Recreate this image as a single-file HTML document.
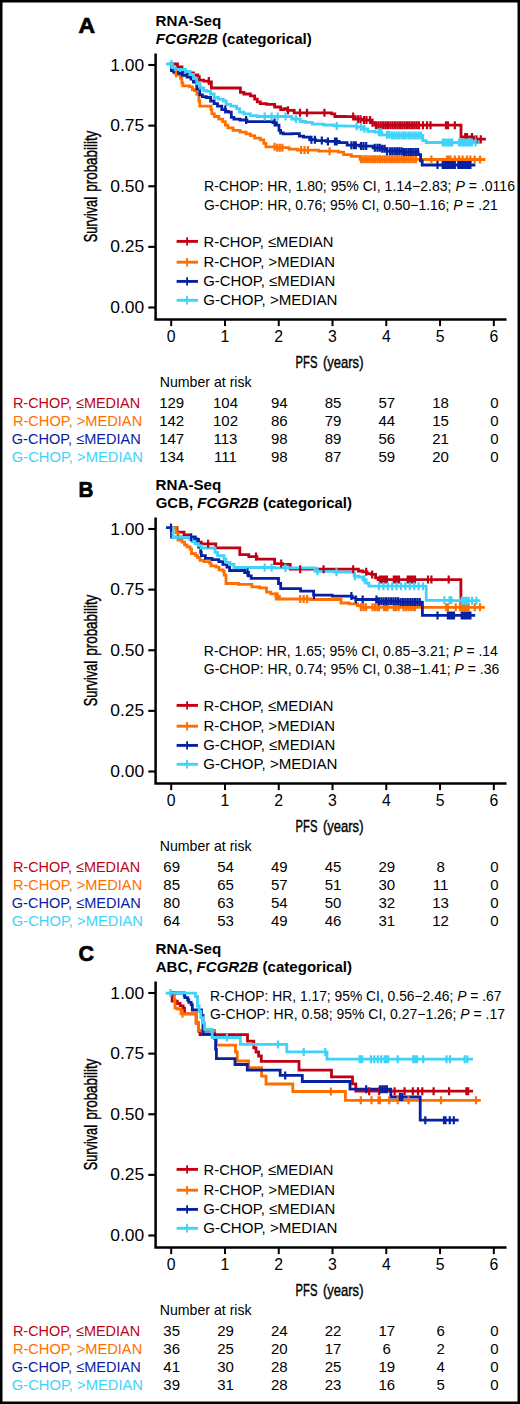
<!DOCTYPE html>
<html><head><meta charset="utf-8"><title>FCGR2B survival</title>
<style>
html,body{margin:0;padding:0;background:#fff;}
body{width:520px;height:1404px;overflow:hidden;}
svg{display:block;font-family:"Liberation Sans", sans-serif;}
</style></head><body>
<svg width="520" height="1404" viewBox="0 0 520 1404">
<rect x="0" y="0" width="520" height="1404" fill="#fff"/>
<text x="78.6" y="32.5" font-size="22.6" text-anchor="start" font-weight="bold" font-style="normal" fill="#000" textLength="16.6" lengthAdjust="spacingAndGlyphs" stroke="#000" stroke-width="0.7">A</text>
<text x="155.6" y="26.2" font-size="14" text-anchor="start" font-weight="bold" font-style="normal" fill="#000" textLength="65.6" lengthAdjust="spacingAndGlyphs">RNA-Seq</text>
<text x="155.8" y="44.0" font-size="14" font-weight="bold" fill="#000" textLength="156" lengthAdjust="spacingAndGlyphs"><tspan font-style="italic">FCGR2B</tspan> (categorical)</text>
<path d="M155.6 53.5 V319.6 H506.5" fill="none" stroke="#000" stroke-width="2.5"/>
<line x1="148.3" y1="65.0" x2="155" y2="65.0" stroke="#000" stroke-width="2.1"/>
<text x="144.2" y="70.5" font-size="16" text-anchor="end" font-weight="normal" font-style="normal" fill="#000" textLength="33.9" lengthAdjust="spacingAndGlyphs">1.00</text>
<line x1="148.3" y1="125.625" x2="155" y2="125.625" stroke="#000" stroke-width="2.1"/>
<text x="144.2" y="131.125" font-size="16" text-anchor="end" font-weight="normal" font-style="normal" fill="#000" textLength="33.9" lengthAdjust="spacingAndGlyphs">0.75</text>
<line x1="148.3" y1="186.25" x2="155" y2="186.25" stroke="#000" stroke-width="2.1"/>
<text x="144.2" y="191.75" font-size="16" text-anchor="end" font-weight="normal" font-style="normal" fill="#000" textLength="33.9" lengthAdjust="spacingAndGlyphs">0.50</text>
<line x1="148.3" y1="246.875" x2="155" y2="246.875" stroke="#000" stroke-width="2.1"/>
<text x="144.2" y="252.375" font-size="16" text-anchor="end" font-weight="normal" font-style="normal" fill="#000" textLength="33.9" lengthAdjust="spacingAndGlyphs">0.25</text>
<line x1="148.3" y1="307.5" x2="155" y2="307.5" stroke="#000" stroke-width="2.1"/>
<text x="144.2" y="313.0" font-size="16" text-anchor="end" font-weight="normal" font-style="normal" fill="#000" textLength="33.9" lengthAdjust="spacingAndGlyphs">0.00</text>
<line x1="171.2" y1="320" x2="171.2" y2="326.1" stroke="#000" stroke-width="2"/>
<text x="171.2" y="342.2" font-size="15.8" text-anchor="middle" font-weight="normal" font-style="normal" fill="#000">0</text>
<line x1="224.97" y1="320" x2="224.97" y2="326.1" stroke="#000" stroke-width="2"/>
<text x="224.97" y="342.2" font-size="15.8" text-anchor="middle" font-weight="normal" font-style="normal" fill="#000">1</text>
<line x1="278.74" y1="320" x2="278.74" y2="326.1" stroke="#000" stroke-width="2"/>
<text x="278.74" y="342.2" font-size="15.8" text-anchor="middle" font-weight="normal" font-style="normal" fill="#000">2</text>
<line x1="332.51" y1="320" x2="332.51" y2="326.1" stroke="#000" stroke-width="2"/>
<text x="332.51" y="342.2" font-size="15.8" text-anchor="middle" font-weight="normal" font-style="normal" fill="#000">3</text>
<line x1="386.28" y1="320" x2="386.28" y2="326.1" stroke="#000" stroke-width="2"/>
<text x="386.28" y="342.2" font-size="15.8" text-anchor="middle" font-weight="normal" font-style="normal" fill="#000">4</text>
<line x1="440.05" y1="320" x2="440.05" y2="326.1" stroke="#000" stroke-width="2"/>
<text x="440.05" y="342.2" font-size="15.8" text-anchor="middle" font-weight="normal" font-style="normal" fill="#000">5</text>
<line x1="493.82" y1="320" x2="493.82" y2="326.1" stroke="#000" stroke-width="2"/>
<text x="493.82" y="342.2" font-size="15.8" text-anchor="middle" font-weight="normal" font-style="normal" fill="#000">6</text>
<text transform="translate(97.0,242.3) rotate(-90)" x="0" y="0" font-size="18.5" fill="#000" stroke="#000" stroke-width="0.45" textLength="45.3" lengthAdjust="spacingAndGlyphs">Survival</text>
<text transform="translate(97.0,191.7) rotate(-90)" x="0" y="0" font-size="18.5" fill="#000" stroke="#000" stroke-width="0.45" textLength="61.0" lengthAdjust="spacingAndGlyphs">probability</text>
<text x="295.6" y="368.3" font-size="16.3" text-anchor="start" font-weight="normal" font-style="normal" fill="#000" textLength="21.8" lengthAdjust="spacingAndGlyphs" stroke="#000" stroke-width="0.4">PFS</text>
<text x="322.9" y="368.3" font-size="16.3" text-anchor="start" font-weight="normal" font-style="normal" fill="#000" textLength="40.6" lengthAdjust="spacingAndGlyphs" stroke="#000" stroke-width="0.4">(years)</text>
<path d="M171.2 64.0 L176.0 64.0 L177.5 64.0 L177.5 67.0 L179.0 67.0 L182.0 67.0 L182.0 72.0 L185.0 72.0 L187.5 72.0 L187.5 73.0 L190.0 73.0 L193.5 73.0 L193.5 75.0 L197.0 75.0 L197.8 75.0 L197.8 76.7 L198.5 76.7 L199.3 76.7 L199.3 80.2 L200.2 80.2 L203.6 80.2 L203.6 81.1 L207.1 81.1 L208.8 81.1 L208.8 81.9 L210.6 81.9 L211.4 81.9 L211.4 88.0 L212.3 88.0 L240.0 88.0 L240.4 88.0 L240.4 92.3 L240.9 92.3 L243.9 92.3 L243.9 94.0 L246.9 94.0 L250.4 94.0 L250.4 95.8 L253.8 95.8 L254.7 95.8 L254.7 99.2 L255.6 99.2 L257.3 99.2 L257.3 101.8 L259.0 101.8 L260.3 101.8 L260.3 103.6 L261.6 103.6 L266.4 103.6 L266.4 104.4 L271.2 104.4 L274.6 104.4 L274.6 107.0 L278.1 107.0 L280.7 107.0 L280.7 109.6 L283.3 109.6 L284.1 109.6 L284.1 108.6 L285.0 108.6 L287.5 108.6 L287.5 110.3 L290.0 110.3 L294.2 110.3 L294.2 112.8 L298.5 112.8 L330.0 112.8 L331.5 112.8 L331.5 113.9 L333.0 113.9 L334.8 113.9 L334.8 116.5 L336.5 116.5 L345.5 116.5 L345.5 116.6 L354.5 116.6 L355.2 116.6 L355.2 119.2 L356.0 119.2 L362.8 119.2 L362.8 120.1 L369.6 120.1 L371.3 120.1 L371.3 122.7 L373.0 122.7 L374.8 122.7 L374.8 125.2 L376.5 125.2 L461.0 125.2 L461.0 137.0 L473.5 137.0 L473.5 139.2 L484.5 139.2" fill="none" stroke="#c20014" stroke-width="2.8" stroke-linejoin="miter" stroke-linecap="square"/>
<path d="M171.2 64.0 L172.6 64.0 L172.6 70.0 L174.0 70.0 L174.8 70.0 L174.8 73.4 L175.6 73.4 L177.5 73.4 L177.5 74.8 L179.4 74.8 L180.4 74.8 L180.4 78.2 L181.3 78.2 L181.8 78.2 L181.8 83.0 L182.3 83.0 L182.8 83.0 L182.8 85.9 L183.3 85.9 L188.0 85.9 L189.5 85.9 L189.5 86.8 L191.0 86.8 L192.4 86.8 L192.4 89.7 L193.8 89.7 L194.4 89.7 L194.4 90.6 L195.0 90.6 L196.8 90.6 L196.8 94.0 L198.5 94.0 L198.9 94.0 L198.9 101.0 L199.3 101.0 L199.8 101.0 L199.8 106.2 L200.2 106.2 L210.6 106.2 L211.0 106.2 L211.0 109.6 L211.4 109.6 L211.9 109.6 L211.9 113.9 L212.3 113.9 L214.4 113.9 L214.4 116.5 L216.6 116.5 L218.8 116.5 L218.8 119.1 L221.0 119.1 L222.7 119.1 L222.7 121.7 L224.4 121.7 L225.3 121.7 L225.3 125.2 L226.2 125.2 L227.9 125.2 L227.9 127.8 L229.6 127.8 L233.1 127.8 L233.1 130.4 L236.5 130.4 L240.0 130.4 L240.0 132.1 L243.5 132.1 L246.1 132.1 L246.1 133.8 L248.7 133.8 L250.4 133.8 L250.4 135.6 L252.1 135.6 L254.7 135.6 L254.7 138.2 L257.3 138.2 L260.4 138.2 L260.4 139.9 L263.4 139.9 L263.8 139.9 L263.8 143.4 L264.2 143.4 L265.9 143.4 L265.9 146.8 L267.7 146.8 L276.4 146.8 L276.4 147.7 L285.0 147.7 L289.1 147.7 L289.1 149.2 L293.3 149.2 L297.6 149.2 L297.6 150.1 L301.9 150.1 L318.4 150.1 L318.4 151.2 L335.0 151.2 L338.4 151.2 L338.4 152.1 L341.9 152.1 L343.6 152.1 L343.6 154.7 L345.4 154.7 L351.4 154.7 L351.4 156.4 L357.5 156.4 L360.1 156.4 L360.1 159.3 L362.7 159.3 L423.4 159.3 L423.4 159.5 L484.0 159.5" fill="none" stroke="#ff6f00" stroke-width="2.8" stroke-linejoin="miter" stroke-linecap="square"/>
<path d="M171.2 64.0 L171.4 64.0 L171.4 70.5 L171.7 70.5 L173.6 70.5 L173.6 72.0 L175.6 72.0 L178.0 72.0 L178.0 73.4 L180.4 73.4 L182.3 73.4 L182.3 75.3 L184.2 75.3 L187.1 75.3 L187.1 77.2 L190.0 77.2 L191.0 77.2 L191.0 79.2 L192.0 79.2 L193.4 79.2 L193.4 82.0 L194.8 82.0 L194.9 82.0 L194.9 81.9 L195.0 81.9 L196.8 81.9 L196.8 88.8 L198.5 88.8 L199.8 88.8 L199.8 94.9 L201.1 94.9 L202.4 94.9 L202.4 96.6 L203.7 96.6 L206.2 96.6 L206.2 97.5 L208.8 97.5 L210.6 97.5 L210.6 101.0 L212.3 101.0 L214.1 101.0 L214.1 103.6 L215.8 103.6 L217.5 103.6 L217.5 106.2 L219.2 106.2 L221.8 106.2 L221.8 109.6 L224.4 109.6 L225.7 109.6 L225.7 111.3 L227.0 111.3 L228.3 111.3 L228.3 112.2 L229.6 112.2 L231.3 112.2 L231.3 117.4 L233.1 117.4 L233.9 117.4 L233.9 119.1 L234.8 119.1 L240.0 119.1 L240.0 120.0 L245.2 120.0 L246.9 120.0 L246.9 121.7 L248.7 121.7 L271.2 121.7 L272.9 121.7 L272.9 122.6 L274.6 122.6 L276.4 122.6 L276.4 125.2 L278.1 125.2 L279.0 125.2 L279.0 130.4 L279.8 130.4 L280.6 130.4 L280.6 133.0 L281.5 133.0 L283.2 133.0 L283.2 133.8 L285.0 133.8 L291.8 133.8 L291.8 133.7 L298.5 133.7 L299.4 133.7 L299.4 136.2 L300.2 136.2 L303.6 136.2 L303.6 137.1 L307.1 137.1 L309.7 137.1 L309.7 139.7 L312.3 139.7 L315.8 139.7 L315.8 140.6 L319.2 140.6 L326.1 140.6 L326.1 141.4 L333.1 141.4 L339.2 141.4 L339.2 142.6 L345.4 142.6 L347.1 142.6 L347.1 145.2 L348.8 145.2 L359.2 145.2 L359.2 146.1 L369.6 146.1 L373.1 146.1 L373.1 147.8 L376.5 147.8 L380.9 147.8 L380.9 148.7 L385.2 148.7 L386.9 148.7 L386.9 151.2 L388.7 151.2 L402.5 151.2 L402.5 152.1 L416.3 152.1 L418.1 152.1 L418.1 154.7 L419.8 154.7 L420.6 154.7 L420.6 160.8 L421.5 160.8 L422.2 160.8 L422.2 165.0 L423.0 165.0 L474.0 165.0" fill="none" stroke="#0622a2" stroke-width="2.8" stroke-linejoin="miter" stroke-linecap="square"/>
<path d="M167.5 64.0 L171.2 64.0 L172.1 64.0 L172.1 67.6 L173.0 67.6 L175.2 67.6 L175.2 69.5 L177.5 69.5 L183.0 69.5 L185.5 69.5 L185.5 71.5 L188.0 71.5 L190.0 71.5 L190.0 74.3 L192.0 74.3 L193.5 74.3 L193.5 78.5 L195.0 78.5 L196.8 78.5 L196.8 83.7 L198.5 83.7 L200.2 83.7 L200.2 88.0 L201.9 88.0 L203.7 88.0 L203.7 90.6 L205.4 90.6 L207.1 90.6 L207.1 91.4 L208.8 91.4 L210.6 91.4 L210.6 94.0 L212.3 94.0 L214.1 94.0 L214.1 97.5 L215.8 97.5 L218.4 97.5 L218.4 99.2 L221.0 99.2 L223.2 99.2 L223.2 101.0 L225.3 101.0 L226.2 101.0 L226.2 104.4 L227.0 104.4 L230.9 104.4 L230.9 106.2 L234.8 106.2 L236.6 106.2 L236.6 108.7 L238.3 108.7 L239.6 108.7 L239.6 112.2 L240.9 112.2 L243.9 112.2 L243.9 113.9 L246.9 113.9 L250.4 113.9 L250.4 115.7 L253.8 115.7 L257.3 115.7 L257.3 116.5 L260.8 116.5 L285.0 116.5 L291.8 116.5 L291.8 119.0 L298.5 119.0 L300.2 119.0 L300.2 121.5 L302.0 121.5 L305.4 121.5 L305.4 122.4 L308.8 122.4 L312.3 122.4 L312.3 124.1 L315.8 124.1 L323.6 124.1 L323.6 125.0 L331.3 125.0 L333.9 125.0 L333.9 125.9 L336.5 125.9 L344.4 125.9 L344.4 126.2 L352.3 126.2 L356.6 126.2 L356.6 127.0 L361.0 127.0 L363.5 127.0 L363.5 128.8 L366.0 128.8 L367.8 128.8 L367.8 131.3 L369.6 131.3 L374.8 131.3 L374.8 132.2 L380.0 132.2 L381.8 132.2 L381.8 134.8 L383.5 134.8 L389.6 134.8 L389.6 135.5 L395.6 135.5 L421.9 135.5 L422.8 135.5 L422.8 140.7 L423.7 140.7 L426.2 140.7 L426.2 142.5 L428.8 142.5 L480.0 142.5" fill="none" stroke="#3fd3f9" stroke-width="2.8" stroke-linejoin="miter" stroke-linecap="square"/>
<path d="M208.8 77.1V85.1M288.0 106.3V114.3M300.0 108.8V116.8M307.0 108.8V116.8M324.4 108.8V116.8M353.2 112.6V120.6M358.0 115.2V123.2M360.5 115.2V123.2M364.0 116.1V124.1M366.5 116.1V124.1M370.0 116.1V124.1M372.5 118.7V126.7M376.0 121.2V129.2M378.4 121.2V129.2M380.8 121.2V129.2M383.2 121.2V129.2M385.6 121.2V129.2M387.9 121.2V129.2M390.3 121.2V129.2M392.7 121.2V129.2M395.1 121.2V129.2M397.5 121.2V129.2M399.9 121.2V129.2M402.3 121.2V129.2M404.7 121.2V129.2M407.1 121.2V129.2M409.4 121.2V129.2M411.8 121.2V129.2M414.2 121.2V129.2M416.6 121.2V129.2M419.0 121.2V129.2M423.0 121.2V129.2M427.0 121.2V129.2M430.5 121.2V129.2M446.0 121.2V129.2M448.0 121.2V129.2M454.8 121.2V129.2M465.2 133.0V141.0M467.0 133.0V141.0M472.0 133.0V141.0M476.5 135.2V143.2M480.8 135.2V143.2" stroke="#c20014" stroke-width="2.2" fill="none"/>
<path d="M176.0 69.4V77.4M274.6 142.8V150.8M277.2 143.7V151.7M279.8 143.7V151.7M282.4 143.7V151.7M301.0 146.1V154.1M304.5 146.1V154.1M308.0 146.1V154.1M329.6 147.2V155.2M361.0 155.3V163.3M363.4 155.3V163.3M365.8 155.3V163.3M368.2 155.3V163.3M370.6 155.3V163.3M373.0 155.3V163.3M375.3 155.3V163.3M377.7 155.3V163.3M380.1 155.3V163.3M382.5 155.3V163.3M384.9 155.3V163.3M387.3 155.3V163.3M389.7 155.3V163.3M392.1 155.3V163.3M394.5 155.3V163.3M396.9 155.3V163.3M399.3 155.3V163.3M401.7 155.3V163.3M404.0 155.3V163.3M406.4 155.3V163.3M408.8 155.3V163.3M411.2 155.3V163.3M413.6 155.3V163.3M416.0 155.3V163.3M431.4 155.5V163.5M447.0 155.5V163.5M449.0 155.5V163.5M450.5 155.5V163.5M454.8 155.5V163.5M459.0 155.5V163.5M462.6 155.5V163.5M467.0 155.5V163.5M470.4 155.5V163.5M474.7 155.5V163.5M480.0 155.5V163.5" stroke="#ff6f00" stroke-width="2.2" fill="none"/>
<path d="M225.3 105.6V113.6M246.1 116.0V124.0M274.6 118.6V126.6M311.4 135.7V143.7M314.9 135.7V143.7M321.8 136.6V144.6M327.9 137.4V145.4M335.0 137.4V145.4M336.7 137.4V145.4M351.4 141.2V149.2M354.0 141.2V149.2M355.8 141.2V149.2M361.0 142.1V150.1M363.5 142.1V150.1M366.2 142.1V150.1M374.8 143.8V151.8M377.4 143.8V151.8M379.8 143.8V151.8M382.2 144.7V152.7M384.6 144.7V152.7M387.0 147.2V155.2M390.0 147.2V155.2M392.3 147.2V155.2M394.7 147.2V155.2M397.0 147.2V155.2M399.3 147.2V155.2M401.7 147.2V155.2M404.0 148.1V156.1M406.3 148.1V156.1M408.7 148.1V156.1M411.0 148.1V156.1M413.3 148.1V156.1M415.7 148.1V156.1M418.0 148.1V156.1M437.5 161.0V169.0M442.7 161.0V169.0M444.7 161.0V169.0M446.7 161.0V169.0M448.8 161.0V169.0M450.8 161.0V169.0M452.8 161.0V169.0M454.8 161.0V169.0M458.3 161.0V169.0M460.3 161.0V169.0M462.3 161.0V169.0M464.4 161.0V169.0M466.4 161.0V169.0M468.4 161.0V169.0M470.4 161.0V169.0" stroke="#0622a2" stroke-width="2.2" fill="none"/>
<path d="M171.5 60.0V68.0M264.7 112.5V120.5M271.6 112.5V120.5M277.7 112.5V120.5M285.5 112.5V120.5M295.9 115.0V123.0M336.7 121.9V129.9M356.6 122.2V130.2M361.0 123.0V131.0M364.4 124.8V132.8M379.0 128.2V136.2M381.0 128.2V136.2M387.0 130.8V138.8M389.4 130.8V138.8M391.9 131.5V139.5M394.3 131.5V139.5M396.7 131.5V139.5M399.1 131.5V139.5M401.6 131.5V139.5M404.0 131.5V139.5M406.4 131.5V139.5M408.9 131.5V139.5M411.3 131.5V139.5M413.7 131.5V139.5M416.1 131.5V139.5M418.6 131.5V139.5M421.0 131.5V139.5M442.7 138.5V146.5M444.6 138.5V146.5M446.5 138.5V146.5M448.4 138.5V146.5M450.3 138.5V146.5M452.2 138.5V146.5M459.0 138.5V146.5M460.9 138.5V146.5M462.7 138.5V146.5M464.6 138.5V146.5M466.4 138.5V146.5M468.3 138.5V146.5M470.1 138.5V146.5M472.0 138.5V146.5M475.6 138.5V146.5" stroke="#3fd3f9" stroke-width="2.2" fill="none"/>
<text x="204.0" y="191.1" font-size="14.2" text-anchor="start" font-weight="normal" font-style="normal" fill="#000" textLength="311.0" lengthAdjust="spacingAndGlyphs">R-CHOP: HR, 1.80; 95% CI, 1.14−2.83; <tspan font-style="italic">P</tspan> = .0116</text>
<text x="204.0" y="209.6" font-size="14.2" text-anchor="start" font-weight="normal" font-style="normal" fill="#000" textLength="293.7" lengthAdjust="spacingAndGlyphs">G-CHOP: HR, 0.76; 95% CI, 0.50−1.16; <tspan font-style="italic">P</tspan> = .21</text>
<line x1="176.6" y1="241.4" x2="198" y2="241.4" stroke="#c20014" stroke-width="2.9"/>
<line x1="187.1" y1="237.20000000000002" x2="187.1" y2="245.6" stroke="#c20014" stroke-width="1.8"/>
<text x="203.6" y="246.5" font-size="15" text-anchor="start" font-weight="normal" font-style="normal" fill="#000" textLength="129.8" lengthAdjust="spacingAndGlyphs">R-CHOP, ≤MEDIAN</text>
<line x1="176.6" y1="262.2" x2="198" y2="262.2" stroke="#ff6f00" stroke-width="2.9"/>
<line x1="187.1" y1="258.0" x2="187.1" y2="266.4" stroke="#ff6f00" stroke-width="1.8"/>
<text x="203.6" y="266.8" font-size="15" text-anchor="start" font-weight="normal" font-style="normal" fill="#000" textLength="131.4" lengthAdjust="spacingAndGlyphs">R-CHOP, &gt;MEDIAN</text>
<line x1="176.6" y1="281.4" x2="198" y2="281.4" stroke="#0622a2" stroke-width="2.9"/>
<line x1="187.1" y1="277.2" x2="187.1" y2="285.59999999999997" stroke="#0622a2" stroke-width="1.8"/>
<text x="203.2" y="285.9" font-size="15" text-anchor="start" font-weight="normal" font-style="normal" fill="#000" textLength="132.0" lengthAdjust="spacingAndGlyphs">G-CHOP, ≤MEDIAN</text>
<line x1="176.6" y1="300.3" x2="198" y2="300.3" stroke="#3fd3f9" stroke-width="2.9"/>
<line x1="187.1" y1="296.1" x2="187.1" y2="304.5" stroke="#3fd3f9" stroke-width="1.8"/>
<text x="203.2" y="305.0" font-size="15" text-anchor="start" font-weight="normal" font-style="normal" fill="#000" textLength="134.2" lengthAdjust="spacingAndGlyphs">G-CHOP, &gt;MEDIAN</text>
<text x="159.8" y="387.2" font-size="15" text-anchor="start" font-weight="normal" font-style="normal" fill="#000" textLength="91.8" lengthAdjust="spacingAndGlyphs">Number at risk</text>
<text x="12.9" y="407.7" font-size="15" text-anchor="start" font-weight="normal" font-style="normal" fill="#c20014" textLength="127.2" lengthAdjust="spacingAndGlyphs">R-CHOP, ≤MEDIAN</text>
<text x="171.7" y="407.7" font-size="15" text-anchor="middle" font-weight="normal" font-style="normal" fill="#000">129</text>
<text x="225.47" y="407.7" font-size="15" text-anchor="middle" font-weight="normal" font-style="normal" fill="#000">104</text>
<text x="279.24" y="407.7" font-size="15" text-anchor="middle" font-weight="normal" font-style="normal" fill="#000">94</text>
<text x="333.01" y="407.7" font-size="15" text-anchor="middle" font-weight="normal" font-style="normal" fill="#000">85</text>
<text x="386.78" y="407.7" font-size="15" text-anchor="middle" font-weight="normal" font-style="normal" fill="#000">57</text>
<text x="440.55" y="407.7" font-size="15" text-anchor="middle" font-weight="normal" font-style="normal" fill="#000">18</text>
<text x="494.32" y="407.7" font-size="15" text-anchor="middle" font-weight="normal" font-style="normal" fill="#000">0</text>
<text x="12.9" y="425.7" font-size="15" text-anchor="start" font-weight="normal" font-style="normal" fill="#ff6f00" textLength="129.3" lengthAdjust="spacingAndGlyphs">R-CHOP, &gt;MEDIAN</text>
<text x="171.7" y="425.7" font-size="15" text-anchor="middle" font-weight="normal" font-style="normal" fill="#000">142</text>
<text x="225.47" y="425.7" font-size="15" text-anchor="middle" font-weight="normal" font-style="normal" fill="#000">102</text>
<text x="279.24" y="425.7" font-size="15" text-anchor="middle" font-weight="normal" font-style="normal" fill="#000">86</text>
<text x="333.01" y="425.7" font-size="15" text-anchor="middle" font-weight="normal" font-style="normal" fill="#000">79</text>
<text x="386.78" y="425.7" font-size="15" text-anchor="middle" font-weight="normal" font-style="normal" fill="#000">44</text>
<text x="440.55" y="425.7" font-size="15" text-anchor="middle" font-weight="normal" font-style="normal" fill="#000">15</text>
<text x="494.32" y="425.7" font-size="15" text-anchor="middle" font-weight="normal" font-style="normal" fill="#000">0</text>
<text x="11.8" y="443.7" font-size="15" text-anchor="start" font-weight="normal" font-style="normal" fill="#0622a2" textLength="129.0" lengthAdjust="spacingAndGlyphs">G-CHOP, ≤MEDIAN</text>
<text x="171.7" y="443.7" font-size="15" text-anchor="middle" font-weight="normal" font-style="normal" fill="#000">147</text>
<text x="225.47" y="443.7" font-size="15" text-anchor="middle" font-weight="normal" font-style="normal" fill="#000">113</text>
<text x="279.24" y="443.7" font-size="15" text-anchor="middle" font-weight="normal" font-style="normal" fill="#000">98</text>
<text x="333.01" y="443.7" font-size="15" text-anchor="middle" font-weight="normal" font-style="normal" fill="#000">89</text>
<text x="386.78" y="443.7" font-size="15" text-anchor="middle" font-weight="normal" font-style="normal" fill="#000">56</text>
<text x="440.55" y="443.7" font-size="15" text-anchor="middle" font-weight="normal" font-style="normal" fill="#000">21</text>
<text x="494.32" y="443.7" font-size="15" text-anchor="middle" font-weight="normal" font-style="normal" fill="#000">0</text>
<text x="11.8" y="461.7" font-size="15" text-anchor="start" font-weight="normal" font-style="normal" fill="#3fd3f9" textLength="131.2" lengthAdjust="spacingAndGlyphs">G-CHOP, &gt;MEDIAN</text>
<text x="171.7" y="461.7" font-size="15" text-anchor="middle" font-weight="normal" font-style="normal" fill="#000">134</text>
<text x="225.47" y="461.7" font-size="15" text-anchor="middle" font-weight="normal" font-style="normal" fill="#000">111</text>
<text x="279.24" y="461.7" font-size="15" text-anchor="middle" font-weight="normal" font-style="normal" fill="#000">98</text>
<text x="333.01" y="461.7" font-size="15" text-anchor="middle" font-weight="normal" font-style="normal" fill="#000">87</text>
<text x="386.78" y="461.7" font-size="15" text-anchor="middle" font-weight="normal" font-style="normal" fill="#000">59</text>
<text x="440.55" y="461.7" font-size="15" text-anchor="middle" font-weight="normal" font-style="normal" fill="#000">20</text>
<text x="494.32" y="461.7" font-size="15" text-anchor="middle" font-weight="normal" font-style="normal" fill="#000">0</text>
<text x="78.6" y="496.5" font-size="22.6" text-anchor="start" font-weight="bold" font-style="normal" fill="#000" textLength="14.9" lengthAdjust="spacingAndGlyphs" stroke="#000" stroke-width="0.7">B</text>
<text x="155.6" y="490.2" font-size="14" text-anchor="start" font-weight="bold" font-style="normal" fill="#000" textLength="65.6" lengthAdjust="spacingAndGlyphs">RNA-Seq</text>
<text x="155.7" y="507.8" font-size="14" font-weight="bold" fill="#000" textLength="196.3" lengthAdjust="spacingAndGlyphs">GCB, <tspan font-style="italic">FCGR2B</tspan> (categorical)</text>
<path d="M155.6 517.5 V783.6 H506.5" fill="none" stroke="#000" stroke-width="2.5"/>
<line x1="148.3" y1="529.0" x2="155" y2="529.0" stroke="#000" stroke-width="2.1"/>
<text x="144.2" y="534.5" font-size="16" text-anchor="end" font-weight="normal" font-style="normal" fill="#000" textLength="33.9" lengthAdjust="spacingAndGlyphs">1.00</text>
<line x1="148.3" y1="589.625" x2="155" y2="589.625" stroke="#000" stroke-width="2.1"/>
<text x="144.2" y="595.125" font-size="16" text-anchor="end" font-weight="normal" font-style="normal" fill="#000" textLength="33.9" lengthAdjust="spacingAndGlyphs">0.75</text>
<line x1="148.3" y1="650.25" x2="155" y2="650.25" stroke="#000" stroke-width="2.1"/>
<text x="144.2" y="655.75" font-size="16" text-anchor="end" font-weight="normal" font-style="normal" fill="#000" textLength="33.9" lengthAdjust="spacingAndGlyphs">0.50</text>
<line x1="148.3" y1="710.875" x2="155" y2="710.875" stroke="#000" stroke-width="2.1"/>
<text x="144.2" y="716.375" font-size="16" text-anchor="end" font-weight="normal" font-style="normal" fill="#000" textLength="33.9" lengthAdjust="spacingAndGlyphs">0.25</text>
<line x1="148.3" y1="771.5" x2="155" y2="771.5" stroke="#000" stroke-width="2.1"/>
<text x="144.2" y="777.0" font-size="16" text-anchor="end" font-weight="normal" font-style="normal" fill="#000" textLength="33.9" lengthAdjust="spacingAndGlyphs">0.00</text>
<line x1="171.2" y1="784" x2="171.2" y2="790.1" stroke="#000" stroke-width="2"/>
<text x="171.2" y="806.2" font-size="15.8" text-anchor="middle" font-weight="normal" font-style="normal" fill="#000">0</text>
<line x1="224.97" y1="784" x2="224.97" y2="790.1" stroke="#000" stroke-width="2"/>
<text x="224.97" y="806.2" font-size="15.8" text-anchor="middle" font-weight="normal" font-style="normal" fill="#000">1</text>
<line x1="278.74" y1="784" x2="278.74" y2="790.1" stroke="#000" stroke-width="2"/>
<text x="278.74" y="806.2" font-size="15.8" text-anchor="middle" font-weight="normal" font-style="normal" fill="#000">2</text>
<line x1="332.51" y1="784" x2="332.51" y2="790.1" stroke="#000" stroke-width="2"/>
<text x="332.51" y="806.2" font-size="15.8" text-anchor="middle" font-weight="normal" font-style="normal" fill="#000">3</text>
<line x1="386.28" y1="784" x2="386.28" y2="790.1" stroke="#000" stroke-width="2"/>
<text x="386.28" y="806.2" font-size="15.8" text-anchor="middle" font-weight="normal" font-style="normal" fill="#000">4</text>
<line x1="440.05" y1="784" x2="440.05" y2="790.1" stroke="#000" stroke-width="2"/>
<text x="440.05" y="806.2" font-size="15.8" text-anchor="middle" font-weight="normal" font-style="normal" fill="#000">5</text>
<line x1="493.82" y1="784" x2="493.82" y2="790.1" stroke="#000" stroke-width="2"/>
<text x="493.82" y="806.2" font-size="15.8" text-anchor="middle" font-weight="normal" font-style="normal" fill="#000">6</text>
<text transform="translate(97.0,706.3) rotate(-90)" x="0" y="0" font-size="18.5" fill="#000" stroke="#000" stroke-width="0.45" textLength="45.3" lengthAdjust="spacingAndGlyphs">Survival</text>
<text transform="translate(97.0,655.7) rotate(-90)" x="0" y="0" font-size="18.5" fill="#000" stroke="#000" stroke-width="0.45" textLength="61.0" lengthAdjust="spacingAndGlyphs">probability</text>
<text x="295.6" y="832.3" font-size="16.3" text-anchor="start" font-weight="normal" font-style="normal" fill="#000" textLength="21.8" lengthAdjust="spacingAndGlyphs" stroke="#000" stroke-width="0.4">PFS</text>
<text x="322.9" y="832.3" font-size="16.3" text-anchor="start" font-weight="normal" font-style="normal" fill="#000" textLength="40.6" lengthAdjust="spacingAndGlyphs" stroke="#000" stroke-width="0.4">(years)</text>
<path d="M171.2 527.6 L177.0 527.6 L177.0 532.1 L184.0 532.1 L184.0 534.8 L189.0 534.8 L189.0 537.5 L192.0 537.5 L192.0 539.5 L198.6 539.5 L198.6 542.2 L201.3 542.2 L201.3 543.8 L215.8 543.8 L215.8 547.9 L238.8 547.9 L239.8 547.9 L239.8 554.6 L240.8 554.6 L248.8 554.6 L248.8 556.6 L256.9 556.6 L256.9 559.2 L274.2 559.2 L274.6 559.2 L274.6 563.6 L275.1 563.6 L282.5 563.6 L282.5 564.4 L289.8 564.4 L290.2 564.4 L290.2 569.2 L290.7 569.2 L357.5 569.2 L358.4 569.2 L358.4 571.0 L359.2 571.0 L362.7 571.0 L362.7 571.8 L366.2 571.8 L367.0 571.8 L367.0 573.6 L367.9 573.6 L371.4 573.6 L371.4 574.4 L374.8 574.4 L375.6 574.4 L375.6 577.9 L376.5 577.9 L378.2 577.9 L378.2 579.6 L380.0 579.6 L460.9 579.6 L460.9 603.3" fill="none" stroke="#c20014" stroke-width="2.8" stroke-linejoin="miter" stroke-linecap="square"/>
<path d="M171.2 527.6 L176.0 527.6 L176.0 532.8 L178.0 532.8 L178.0 540.2 L182.0 540.2 L182.0 542.2 L184.5 542.2 L184.5 544.9 L187.0 544.9 L187.0 546.9 L190.0 546.9 L190.0 548.9 L191.5 548.9 L191.5 553.6 L195.5 553.6 L195.5 555.7 L197.5 555.7 L197.5 557.7 L200.0 557.7 L200.0 560.4 L204.0 560.4 L204.0 561.7 L209.5 561.7 L209.5 563.1 L211.0 563.1 L211.0 565.8 L216.0 565.8 L216.0 567.1 L219.0 567.1 L219.0 569.8 L223.0 569.8 L223.0 571.1 L224.2 571.1 L224.2 575.2 L226.0 575.2 L226.0 583.5 L226.3 583.5 L238.4 583.5 L238.4 584.4 L250.4 584.4 L251.9 584.4 L251.9 586.9 L253.5 586.9 L259.6 586.9 L259.6 587.8 L265.6 587.8 L266.5 587.8 L266.5 592.1 L267.3 592.1 L270.8 592.1 L270.8 593.8 L274.2 593.8 L275.9 593.8 L275.9 596.4 L277.7 596.4 L279.4 596.4 L279.4 599.0 L281.2 599.0 L310.7 599.0 L310.7 599.5 L340.2 599.5 L341.0 599.5 L341.0 603.0 L341.9 603.0 L348.9 603.0 L348.9 603.8 L355.8 603.8 L357.5 603.8 L357.5 605.6 L359.2 605.6 L360.9 605.6 L360.9 607.3 L362.7 607.3 L483.4 607.3" fill="none" stroke="#ff6f00" stroke-width="2.8" stroke-linejoin="miter" stroke-linecap="square"/>
<path d="M167.5 527.6 L171.5 527.6 L171.5 537.2 L193.0 537.2 L193.0 537.5 L194.2 537.5 L194.2 537.0 L195.3 537.0 L195.3 538.8 L197.3 538.8 L197.3 541.5 L198.6 541.5 L198.6 547.0 L200.7 547.0 L200.7 552.3 L201.3 552.3 L201.3 555.7 L205.4 555.7 L205.4 558.4 L212.0 558.4 L212.0 559.7 L218.8 559.7 L218.8 561.7 L222.9 561.7 L222.9 564.4 L226.9 564.4 L226.9 567.1 L229.6 567.1 L229.6 570.5 L244.6 570.5 L244.6 572.5 L248.5 572.5 L248.5 575.8 L251.2 575.8 L251.2 578.3 L251.7 578.3 L277.7 578.3 L278.5 578.3 L278.5 583.5 L279.4 583.5 L280.7 583.5 L280.7 588.7 L282.0 588.7 L300.2 588.7 L300.6 588.7 L300.6 591.2 L301.0 591.2 L313.2 591.2 L313.6 591.2 L313.6 595.2 L314.0 595.2 L332.3 595.2 L332.3 596.1 L350.6 596.1 L352.3 596.1 L352.3 597.8 L354.0 597.8 L355.8 597.8 L355.8 599.5 L357.5 599.5 L374.8 599.5 L376.6 599.5 L376.6 601.3 L378.3 601.3 L399.1 601.3 L399.1 602.1 L419.8 602.1 L420.9 602.1 L420.9 602.4 L421.9 602.4 L422.4 602.4 L422.4 615.4 L422.8 615.4 L473.8 615.4" fill="none" stroke="#0622a2" stroke-width="2.8" stroke-linejoin="miter" stroke-linecap="square"/>
<path d="M171.2 527.6 L173.0 527.6 L173.0 537.3 L190.0 537.3 L190.0 539.5 L192.0 539.5 L192.0 541.5 L195.0 541.5 L195.0 543.6 L198.5 543.6 L198.5 545.6 L201.0 545.6 L201.0 548.0 L215.0 548.0 L215.0 552.3 L217.5 552.3 L217.5 555.7 L224.0 555.7 L224.0 559.0 L226.0 559.0 L226.0 562.5 L230.0 562.5 L230.0 564.4 L234.0 564.4 L234.0 567.9 L234.5 567.9 L234.5 567.5 L235.0 567.5 L274.5 567.5 L274.5 567.9 L314.0 567.9 L314.9 567.9 L314.9 571.3 L315.8 571.3 L334.1 571.3 L334.1 572.2 L352.3 572.2 L354.1 572.2 L354.1 576.2 L355.8 576.2 L358.4 576.2 L358.4 577.0 L361.0 577.0 L362.7 577.0 L362.7 579.6 L364.4 579.6 L366.1 579.6 L366.1 583.1 L367.9 583.1 L368.8 583.1 L368.8 586.2 L369.6 586.2 L426.2 586.2 L426.2 600.3 L452.6 600.3 L452.6 600.7 L479.0 600.7" fill="none" stroke="#3fd3f9" stroke-width="2.8" stroke-linejoin="miter" stroke-linecap="square"/>
<path d="M208.1 539.8V547.8M256.0 552.6V560.6M281.2 559.6V567.6M300.2 565.2V573.2M323.6 565.2V573.2M353.2 565.2V573.2M366.2 567.8V575.8M372.2 570.4V578.4M380.0 575.6V583.6M381.8 575.6V583.6M383.5 575.6V583.6M385.2 575.6V583.6M387.0 575.6V583.6M393.8 575.6V583.6M395.5 575.6V583.6M397.3 575.6V583.6M399.0 575.6V583.6M407.7 575.6V583.6M409.4 575.6V583.6M411.1 575.6V583.6M412.9 575.6V583.6M414.6 575.6V583.6M415.0 575.6V583.6M428.0 575.6V583.6M431.4 575.6V583.6M448.7 575.6V583.6" stroke="#c20014" stroke-width="2.2" fill="none"/>
<path d="M276.0 592.4V600.4M277.7 592.4V600.4M300.2 595.0V603.0M303.7 595.0V603.0M307.1 595.0V603.0M361.0 603.3V611.3M363.5 603.3V611.3M366.0 603.3V611.3M372.5 603.3V611.3M375.0 603.3V611.3M377.5 603.3V611.3M379.0 603.3V611.3M384.0 603.3V611.3M386.0 603.3V611.3M387.5 603.3V611.3M393.8 603.3V611.3M396.0 603.3V611.3M398.6 603.3V611.3M403.5 603.3V611.3M406.0 603.3V611.3M408.5 603.3V611.3M411.0 603.3V611.3M413.5 603.3V611.3M415.0 603.3V611.3M446.2 603.3V611.3M447.9 603.3V611.3M455.7 603.3V611.3M460.0 603.3V611.3M462.2 603.3V611.3M464.4 603.3V611.3M466.5 603.3V611.3M468.7 603.3V611.3M474.7 603.3V611.3M480.0 603.3V611.3" stroke="#ff6f00" stroke-width="2.2" fill="none"/>
<path d="M171.0 523.6V531.6M191.2 533.2V541.2M247.5 568.5V576.5M314.0 591.2V599.2M351.4 592.1V600.1M355.8 595.5V603.5M362.7 595.5V603.5M376.5 595.5V603.5M378.9 597.3V605.3M381.3 597.3V605.3M383.7 597.3V605.3M386.1 597.3V605.3M388.5 597.3V605.3M390.9 597.3V605.3M393.3 597.3V605.3M395.7 597.3V605.3M398.1 597.3V605.3M400.6 598.1V606.1M403.0 598.1V606.1M405.4 598.1V606.1M407.8 598.1V606.1M410.2 598.1V606.1M412.6 598.1V606.1M415.0 598.1V606.1M417.4 598.1V606.1M419.8 598.1V606.1M437.5 611.4V619.4M447.9 611.4V619.4M449.9 611.4V619.4M452.0 611.4V619.4M454.0 611.4V619.4M461.7 611.4V619.4M463.4 611.4V619.4M465.2 611.4V619.4M466.9 611.4V619.4M468.7 611.4V619.4M470.4 611.4V619.4" stroke="#0622a2" stroke-width="2.2" fill="none"/>
<path d="M264.7 563.5V571.5M271.6 563.5V571.5M285.5 563.9V571.9M317.5 567.3V575.3M336.5 568.2V576.2M354.9 572.2V580.2M364.4 575.6V583.6M379.0 582.2V590.2M383.4 582.2V590.2M387.8 582.2V590.2M392.2 582.2V590.2M396.6 582.2V590.2M401.0 582.2V590.2M405.4 582.2V590.2M409.8 582.2V590.2M414.2 582.2V590.2M418.6 582.2V590.2M423.0 582.2V590.2M444.4 596.3V604.3M449.6 596.3V604.3M451.3 596.3V604.3M461.7 596.7V604.7M463.4 596.7V604.7M465.2 596.7V604.7M466.9 596.7V604.7M468.7 596.7V604.7M472.1 596.7V604.7M476.4 596.7V604.7" stroke="#3fd3f9" stroke-width="2.2" fill="none"/>
<text x="203.8" y="655.6" font-size="14.2" text-anchor="start" font-weight="normal" font-style="normal" fill="#000" textLength="294.1" lengthAdjust="spacingAndGlyphs">R-CHOP: HR, 1.65; 95% CI, 0.85−3.21; <tspan font-style="italic">P</tspan> = .14</text>
<text x="203.8" y="674.1" font-size="14.2" text-anchor="start" font-weight="normal" font-style="normal" fill="#000" textLength="295.5" lengthAdjust="spacingAndGlyphs">G-CHOP: HR, 0.74; 95% CI, 0.38−1.41; <tspan font-style="italic">P</tspan> = .36</text>
<line x1="176.6" y1="705.4" x2="198" y2="705.4" stroke="#c20014" stroke-width="2.9"/>
<line x1="187.1" y1="701.1999999999999" x2="187.1" y2="709.6" stroke="#c20014" stroke-width="1.8"/>
<text x="203.6" y="710.5" font-size="15" text-anchor="start" font-weight="normal" font-style="normal" fill="#000" textLength="129.8" lengthAdjust="spacingAndGlyphs">R-CHOP, ≤MEDIAN</text>
<line x1="176.6" y1="726.2" x2="198" y2="726.2" stroke="#ff6f00" stroke-width="2.9"/>
<line x1="187.1" y1="722.0" x2="187.1" y2="730.4000000000001" stroke="#ff6f00" stroke-width="1.8"/>
<text x="203.6" y="730.8" font-size="15" text-anchor="start" font-weight="normal" font-style="normal" fill="#000" textLength="131.4" lengthAdjust="spacingAndGlyphs">R-CHOP, &gt;MEDIAN</text>
<line x1="176.6" y1="745.4" x2="198" y2="745.4" stroke="#0622a2" stroke-width="2.9"/>
<line x1="187.1" y1="741.1999999999999" x2="187.1" y2="749.6" stroke="#0622a2" stroke-width="1.8"/>
<text x="203.2" y="749.9" font-size="15" text-anchor="start" font-weight="normal" font-style="normal" fill="#000" textLength="132.0" lengthAdjust="spacingAndGlyphs">G-CHOP, ≤MEDIAN</text>
<line x1="176.6" y1="764.3" x2="198" y2="764.3" stroke="#3fd3f9" stroke-width="2.9"/>
<line x1="187.1" y1="760.0999999999999" x2="187.1" y2="768.5" stroke="#3fd3f9" stroke-width="1.8"/>
<text x="203.2" y="769.0" font-size="15" text-anchor="start" font-weight="normal" font-style="normal" fill="#000" textLength="134.2" lengthAdjust="spacingAndGlyphs">G-CHOP, &gt;MEDIAN</text>
<text x="159.8" y="851.2" font-size="15" text-anchor="start" font-weight="normal" font-style="normal" fill="#000" textLength="91.8" lengthAdjust="spacingAndGlyphs">Number at risk</text>
<text x="12.9" y="871.7" font-size="15" text-anchor="start" font-weight="normal" font-style="normal" fill="#c20014" textLength="127.2" lengthAdjust="spacingAndGlyphs">R-CHOP, ≤MEDIAN</text>
<text x="171.7" y="871.7" font-size="15" text-anchor="middle" font-weight="normal" font-style="normal" fill="#000">69</text>
<text x="225.47" y="871.7" font-size="15" text-anchor="middle" font-weight="normal" font-style="normal" fill="#000">54</text>
<text x="279.24" y="871.7" font-size="15" text-anchor="middle" font-weight="normal" font-style="normal" fill="#000">49</text>
<text x="333.01" y="871.7" font-size="15" text-anchor="middle" font-weight="normal" font-style="normal" fill="#000">45</text>
<text x="386.78" y="871.7" font-size="15" text-anchor="middle" font-weight="normal" font-style="normal" fill="#000">29</text>
<text x="440.55" y="871.7" font-size="15" text-anchor="middle" font-weight="normal" font-style="normal" fill="#000">8</text>
<text x="494.32" y="871.7" font-size="15" text-anchor="middle" font-weight="normal" font-style="normal" fill="#000">0</text>
<text x="12.9" y="889.7" font-size="15" text-anchor="start" font-weight="normal" font-style="normal" fill="#ff6f00" textLength="129.3" lengthAdjust="spacingAndGlyphs">R-CHOP, &gt;MEDIAN</text>
<text x="171.7" y="889.7" font-size="15" text-anchor="middle" font-weight="normal" font-style="normal" fill="#000">85</text>
<text x="225.47" y="889.7" font-size="15" text-anchor="middle" font-weight="normal" font-style="normal" fill="#000">65</text>
<text x="279.24" y="889.7" font-size="15" text-anchor="middle" font-weight="normal" font-style="normal" fill="#000">57</text>
<text x="333.01" y="889.7" font-size="15" text-anchor="middle" font-weight="normal" font-style="normal" fill="#000">51</text>
<text x="386.78" y="889.7" font-size="15" text-anchor="middle" font-weight="normal" font-style="normal" fill="#000">30</text>
<text x="440.55" y="889.7" font-size="15" text-anchor="middle" font-weight="normal" font-style="normal" fill="#000">11</text>
<text x="494.32" y="889.7" font-size="15" text-anchor="middle" font-weight="normal" font-style="normal" fill="#000">0</text>
<text x="11.8" y="907.7" font-size="15" text-anchor="start" font-weight="normal" font-style="normal" fill="#0622a2" textLength="129.0" lengthAdjust="spacingAndGlyphs">G-CHOP, ≤MEDIAN</text>
<text x="171.7" y="907.7" font-size="15" text-anchor="middle" font-weight="normal" font-style="normal" fill="#000">80</text>
<text x="225.47" y="907.7" font-size="15" text-anchor="middle" font-weight="normal" font-style="normal" fill="#000">63</text>
<text x="279.24" y="907.7" font-size="15" text-anchor="middle" font-weight="normal" font-style="normal" fill="#000">54</text>
<text x="333.01" y="907.7" font-size="15" text-anchor="middle" font-weight="normal" font-style="normal" fill="#000">50</text>
<text x="386.78" y="907.7" font-size="15" text-anchor="middle" font-weight="normal" font-style="normal" fill="#000">32</text>
<text x="440.55" y="907.7" font-size="15" text-anchor="middle" font-weight="normal" font-style="normal" fill="#000">13</text>
<text x="494.32" y="907.7" font-size="15" text-anchor="middle" font-weight="normal" font-style="normal" fill="#000">0</text>
<text x="11.8" y="925.7" font-size="15" text-anchor="start" font-weight="normal" font-style="normal" fill="#3fd3f9" textLength="131.2" lengthAdjust="spacingAndGlyphs">G-CHOP, &gt;MEDIAN</text>
<text x="171.7" y="925.7" font-size="15" text-anchor="middle" font-weight="normal" font-style="normal" fill="#000">64</text>
<text x="225.47" y="925.7" font-size="15" text-anchor="middle" font-weight="normal" font-style="normal" fill="#000">53</text>
<text x="279.24" y="925.7" font-size="15" text-anchor="middle" font-weight="normal" font-style="normal" fill="#000">49</text>
<text x="333.01" y="925.7" font-size="15" text-anchor="middle" font-weight="normal" font-style="normal" fill="#000">46</text>
<text x="386.78" y="925.7" font-size="15" text-anchor="middle" font-weight="normal" font-style="normal" fill="#000">31</text>
<text x="440.55" y="925.7" font-size="15" text-anchor="middle" font-weight="normal" font-style="normal" fill="#000">12</text>
<text x="494.32" y="925.7" font-size="15" text-anchor="middle" font-weight="normal" font-style="normal" fill="#000">0</text>
<text x="78.6" y="960.5" font-size="22.6" text-anchor="start" font-weight="bold" font-style="normal" fill="#000" textLength="15.5" lengthAdjust="spacingAndGlyphs" stroke="#000" stroke-width="0.7">C</text>
<text x="155.6" y="954.2" font-size="14" text-anchor="start" font-weight="bold" font-style="normal" fill="#000" textLength="65.6" lengthAdjust="spacingAndGlyphs">RNA-Seq</text>
<text x="155.7" y="971.8" font-size="14" font-weight="bold" fill="#000" textLength="196.3" lengthAdjust="spacingAndGlyphs">ABC, <tspan font-style="italic">FCGR2B</tspan> (categorical)</text>
<path d="M155.6 981.5 V1247.6 H506.5" fill="none" stroke="#000" stroke-width="2.5"/>
<line x1="148.3" y1="993.0" x2="155" y2="993.0" stroke="#000" stroke-width="2.1"/>
<text x="144.2" y="998.5" font-size="16" text-anchor="end" font-weight="normal" font-style="normal" fill="#000" textLength="33.9" lengthAdjust="spacingAndGlyphs">1.00</text>
<line x1="148.3" y1="1053.625" x2="155" y2="1053.625" stroke="#000" stroke-width="2.1"/>
<text x="144.2" y="1059.125" font-size="16" text-anchor="end" font-weight="normal" font-style="normal" fill="#000" textLength="33.9" lengthAdjust="spacingAndGlyphs">0.75</text>
<line x1="148.3" y1="1114.25" x2="155" y2="1114.25" stroke="#000" stroke-width="2.1"/>
<text x="144.2" y="1119.75" font-size="16" text-anchor="end" font-weight="normal" font-style="normal" fill="#000" textLength="33.9" lengthAdjust="spacingAndGlyphs">0.50</text>
<line x1="148.3" y1="1174.875" x2="155" y2="1174.875" stroke="#000" stroke-width="2.1"/>
<text x="144.2" y="1180.375" font-size="16" text-anchor="end" font-weight="normal" font-style="normal" fill="#000" textLength="33.9" lengthAdjust="spacingAndGlyphs">0.25</text>
<line x1="148.3" y1="1235.5" x2="155" y2="1235.5" stroke="#000" stroke-width="2.1"/>
<text x="144.2" y="1241.0" font-size="16" text-anchor="end" font-weight="normal" font-style="normal" fill="#000" textLength="33.9" lengthAdjust="spacingAndGlyphs">0.00</text>
<line x1="171.2" y1="1248" x2="171.2" y2="1254.1" stroke="#000" stroke-width="2"/>
<text x="171.2" y="1270.2" font-size="15.8" text-anchor="middle" font-weight="normal" font-style="normal" fill="#000">0</text>
<line x1="224.97" y1="1248" x2="224.97" y2="1254.1" stroke="#000" stroke-width="2"/>
<text x="224.97" y="1270.2" font-size="15.8" text-anchor="middle" font-weight="normal" font-style="normal" fill="#000">1</text>
<line x1="278.74" y1="1248" x2="278.74" y2="1254.1" stroke="#000" stroke-width="2"/>
<text x="278.74" y="1270.2" font-size="15.8" text-anchor="middle" font-weight="normal" font-style="normal" fill="#000">2</text>
<line x1="332.51" y1="1248" x2="332.51" y2="1254.1" stroke="#000" stroke-width="2"/>
<text x="332.51" y="1270.2" font-size="15.8" text-anchor="middle" font-weight="normal" font-style="normal" fill="#000">3</text>
<line x1="386.28" y1="1248" x2="386.28" y2="1254.1" stroke="#000" stroke-width="2"/>
<text x="386.28" y="1270.2" font-size="15.8" text-anchor="middle" font-weight="normal" font-style="normal" fill="#000">4</text>
<line x1="440.05" y1="1248" x2="440.05" y2="1254.1" stroke="#000" stroke-width="2"/>
<text x="440.05" y="1270.2" font-size="15.8" text-anchor="middle" font-weight="normal" font-style="normal" fill="#000">5</text>
<line x1="493.82" y1="1248" x2="493.82" y2="1254.1" stroke="#000" stroke-width="2"/>
<text x="493.82" y="1270.2" font-size="15.8" text-anchor="middle" font-weight="normal" font-style="normal" fill="#000">6</text>
<text transform="translate(97.0,1170.3) rotate(-90)" x="0" y="0" font-size="18.5" fill="#000" stroke="#000" stroke-width="0.45" textLength="45.3" lengthAdjust="spacingAndGlyphs">Survival</text>
<text transform="translate(97.0,1119.7) rotate(-90)" x="0" y="0" font-size="18.5" fill="#000" stroke="#000" stroke-width="0.45" textLength="61.0" lengthAdjust="spacingAndGlyphs">probability</text>
<text x="295.6" y="1296.3" font-size="16.3" text-anchor="start" font-weight="normal" font-style="normal" fill="#000" textLength="21.8" lengthAdjust="spacingAndGlyphs" stroke="#000" stroke-width="0.4">PFS</text>
<text x="322.9" y="1296.3" font-size="16.3" text-anchor="start" font-weight="normal" font-style="normal" fill="#000" textLength="40.6" lengthAdjust="spacingAndGlyphs" stroke="#000" stroke-width="0.4">(years)</text>
<path d="M171.2 993.0 L172.1 993.0 L172.1 1001.2 L177.3 1001.2 L177.3 1003.5 L180.2 1003.5 L180.2 1005.8 L183.1 1005.8 L183.1 1008.1 L184.5 1008.1 L184.5 1013.8 L196.2 1013.8 L196.2 1023.0 L198.5 1023.0 L198.5 1031.0 L200.0 1031.0 L200.0 1034.6 L247.5 1034.6 L247.5 1041.2 L253.8 1041.2 L253.8 1047.9 L256.0 1047.9 L256.0 1052.0 L258.6 1052.0 L258.6 1056.0 L261.3 1056.0 L261.3 1061.3 L299.0 1061.3 L299.0 1070.2 L331.5 1070.2 L331.5 1076.9 L352.5 1076.9 L352.5 1083.8 L355.8 1083.8 L355.8 1091.2 L471.6 1091.2" fill="none" stroke="#c20014" stroke-width="2.8" stroke-linejoin="miter" stroke-linecap="square"/>
<path d="M171.2 993.0 L174.4 993.0 L174.4 1000.0 L175.0 1000.0 L175.0 1008.1 L177.3 1008.1 L177.3 1009.2 L181.1 1009.2 L181.1 1013.8 L196.2 1013.8 L196.2 1023.0 L198.5 1023.0 L198.5 1030.5 L214.6 1030.5 L214.6 1038.0 L216.5 1038.0 L216.5 1045.2 L235.5 1045.2 L235.5 1052.0 L237.2 1052.0 L237.2 1061.0 L248.6 1061.0 L248.6 1067.6 L261.6 1067.6 L261.6 1076.2 L266.0 1076.2 L266.0 1084.0 L292.8 1084.0 L292.8 1091.5 L345.4 1091.5 L345.4 1100.3 L479.4 1100.3" fill="none" stroke="#ff6f00" stroke-width="2.8" stroke-linejoin="miter" stroke-linecap="square"/>
<path d="M171.2 993.0 L184.2 993.0 L184.2 995.4 L184.8 995.4 L184.8 997.7 L187.7 997.7 L187.7 1000.0 L188.8 1000.0 L188.8 1002.3 L191.2 1002.3 L191.2 1004.6 L192.3 1004.6 L192.3 1010.0 L201.5 1010.0 L201.5 1015.4 L203.0 1015.4 L203.0 1033.8 L214.6 1033.8 L214.6 1038.1 L215.6 1038.1 L215.6 1049.2 L216.4 1049.2 L216.4 1058.7 L235.0 1058.7 L235.0 1064.5 L247.3 1064.5 L247.3 1070.2 L280.2 1070.2 L280.2 1075.4 L302.3 1075.4 L302.3 1081.5 L350.0 1081.5 L350.0 1089.2 L390.8 1089.2 L390.8 1097.0 L420.2 1097.0 L420.2 1120.2 L457.3 1120.2" fill="none" stroke="#0622a2" stroke-width="2.8" stroke-linejoin="miter" stroke-linecap="square"/>
<path d="M167.0 993.1 L195.5 993.1 L195.5 996.5 L197.5 996.5 L197.5 1006.0 L199.2 1006.0 L199.2 1011.5 L200.8 1011.5 L200.8 1017.7 L202.7 1017.7 L202.7 1023.0 L204.6 1023.0 L204.6 1029.4 L212.2 1029.4 L212.2 1037.5 L240.4 1037.5 L240.4 1044.4 L286.8 1044.4 L286.8 1051.9 L327.0 1051.9 L327.0 1059.2 L471.6 1059.2" fill="none" stroke="#3fd3f9" stroke-width="2.8" stroke-linejoin="miter" stroke-linecap="square"/>
<path d="M369.2 1087.2V1095.2M379.2 1087.2V1095.2M394.6 1087.2V1095.2M404.6 1087.2V1095.2M412.8 1087.2V1095.2M418.0 1087.2V1095.2M422.3 1087.2V1095.2M433.6 1087.2V1095.2M449.1 1087.2V1095.2M466.4 1087.2V1095.2M468.2 1087.2V1095.2" stroke="#c20014" stroke-width="2.2" fill="none"/>
<path d="M182.5 1009.8V1017.8M330.9 1087.5V1095.5M360.8 1096.3V1104.3M371.5 1096.3V1104.3M378.5 1096.3V1104.3M380.0 1096.3V1104.3M389.2 1096.3V1104.3M397.7 1096.3V1104.3M408.5 1096.3V1104.3M441.0 1096.3V1104.3M476.0 1096.3V1104.3" stroke="#ff6f00" stroke-width="2.2" fill="none"/>
<path d="M285.2 1071.4V1079.4M366.2 1085.2V1093.2M380.0 1085.2V1093.2M382.3 1085.2V1093.2M384.6 1085.2V1093.2M386.9 1085.2V1093.2M400.0 1093.0V1101.0M402.3 1093.0V1101.0M425.3 1116.2V1124.2M444.0 1116.2V1124.2M445.5 1116.2V1124.2M449.8 1116.2V1124.2M453.8 1116.2V1124.2" stroke="#0622a2" stroke-width="2.2" fill="none"/>
<path d="M170.4 989.1V997.1M226.9 1033.5V1041.5M278.0 1040.4V1048.4M303.7 1047.9V1055.9M325.2 1047.9V1055.9M359.6 1055.2V1063.2M361.0 1055.2V1063.2M362.2 1055.2V1063.2M370.9 1055.2V1063.2M374.3 1055.2V1063.2M377.8 1055.2V1063.2M381.2 1055.2V1063.2M384.7 1055.2V1063.2M386.5 1055.2V1063.2M388.2 1055.2V1063.2M397.7 1055.2V1063.2M413.3 1055.2V1063.2M413.7 1055.2V1063.2M415.5 1055.2V1063.2M417.1 1055.2V1063.2M423.2 1055.2V1063.2M446.5 1055.2V1063.2M450.0 1055.2V1063.2M464.7 1055.2V1063.2M467.3 1055.2V1063.2" stroke="#3fd3f9" stroke-width="2.2" fill="none"/>
<text x="210.0" y="1001.2" font-size="14.2" text-anchor="start" font-weight="normal" font-style="normal" fill="#000" textLength="291.5" lengthAdjust="spacingAndGlyphs">R-CHOP: HR, 1.17; 95% CI, 0.56−2.46; <tspan font-style="italic">P</tspan> = .67</text>
<text x="210.0" y="1019.2" font-size="14.2" text-anchor="start" font-weight="normal" font-style="normal" fill="#000" textLength="295.0" lengthAdjust="spacingAndGlyphs">G-CHOP: HR, 0.58; 95% CI, 0.27−1.26; <tspan font-style="italic">P</tspan> = .17</text>
<line x1="176.6" y1="1169.4" x2="198" y2="1169.4" stroke="#c20014" stroke-width="2.9"/>
<line x1="187.1" y1="1165.2" x2="187.1" y2="1173.6000000000001" stroke="#c20014" stroke-width="1.8"/>
<text x="203.6" y="1174.5" font-size="15" text-anchor="start" font-weight="normal" font-style="normal" fill="#000" textLength="129.8" lengthAdjust="spacingAndGlyphs">R-CHOP, ≤MEDIAN</text>
<line x1="176.6" y1="1190.2" x2="198" y2="1190.2" stroke="#ff6f00" stroke-width="2.9"/>
<line x1="187.1" y1="1186.0" x2="187.1" y2="1194.4" stroke="#ff6f00" stroke-width="1.8"/>
<text x="203.6" y="1194.8" font-size="15" text-anchor="start" font-weight="normal" font-style="normal" fill="#000" textLength="131.4" lengthAdjust="spacingAndGlyphs">R-CHOP, &gt;MEDIAN</text>
<line x1="176.6" y1="1209.4" x2="198" y2="1209.4" stroke="#0622a2" stroke-width="2.9"/>
<line x1="187.1" y1="1205.2" x2="187.1" y2="1213.6000000000001" stroke="#0622a2" stroke-width="1.8"/>
<text x="203.2" y="1213.9" font-size="15" text-anchor="start" font-weight="normal" font-style="normal" fill="#000" textLength="132.0" lengthAdjust="spacingAndGlyphs">G-CHOP, ≤MEDIAN</text>
<line x1="176.6" y1="1228.3" x2="198" y2="1228.3" stroke="#3fd3f9" stroke-width="2.9"/>
<line x1="187.1" y1="1224.1" x2="187.1" y2="1232.5" stroke="#3fd3f9" stroke-width="1.8"/>
<text x="203.2" y="1233.0" font-size="15" text-anchor="start" font-weight="normal" font-style="normal" fill="#000" textLength="134.2" lengthAdjust="spacingAndGlyphs">G-CHOP, &gt;MEDIAN</text>
<text x="159.8" y="1315.2" font-size="15" text-anchor="start" font-weight="normal" font-style="normal" fill="#000" textLength="91.8" lengthAdjust="spacingAndGlyphs">Number at risk</text>
<text x="12.9" y="1335.7" font-size="15" text-anchor="start" font-weight="normal" font-style="normal" fill="#c20014" textLength="127.2" lengthAdjust="spacingAndGlyphs">R-CHOP, ≤MEDIAN</text>
<text x="171.7" y="1335.7" font-size="15" text-anchor="middle" font-weight="normal" font-style="normal" fill="#000">35</text>
<text x="225.47" y="1335.7" font-size="15" text-anchor="middle" font-weight="normal" font-style="normal" fill="#000">29</text>
<text x="279.24" y="1335.7" font-size="15" text-anchor="middle" font-weight="normal" font-style="normal" fill="#000">24</text>
<text x="333.01" y="1335.7" font-size="15" text-anchor="middle" font-weight="normal" font-style="normal" fill="#000">22</text>
<text x="386.78" y="1335.7" font-size="15" text-anchor="middle" font-weight="normal" font-style="normal" fill="#000">17</text>
<text x="440.55" y="1335.7" font-size="15" text-anchor="middle" font-weight="normal" font-style="normal" fill="#000">6</text>
<text x="494.32" y="1335.7" font-size="15" text-anchor="middle" font-weight="normal" font-style="normal" fill="#000">0</text>
<text x="12.9" y="1353.7" font-size="15" text-anchor="start" font-weight="normal" font-style="normal" fill="#ff6f00" textLength="129.3" lengthAdjust="spacingAndGlyphs">R-CHOP, &gt;MEDIAN</text>
<text x="171.7" y="1353.7" font-size="15" text-anchor="middle" font-weight="normal" font-style="normal" fill="#000">36</text>
<text x="225.47" y="1353.7" font-size="15" text-anchor="middle" font-weight="normal" font-style="normal" fill="#000">25</text>
<text x="279.24" y="1353.7" font-size="15" text-anchor="middle" font-weight="normal" font-style="normal" fill="#000">20</text>
<text x="333.01" y="1353.7" font-size="15" text-anchor="middle" font-weight="normal" font-style="normal" fill="#000">17</text>
<text x="386.78" y="1353.7" font-size="15" text-anchor="middle" font-weight="normal" font-style="normal" fill="#000">6</text>
<text x="440.55" y="1353.7" font-size="15" text-anchor="middle" font-weight="normal" font-style="normal" fill="#000">2</text>
<text x="494.32" y="1353.7" font-size="15" text-anchor="middle" font-weight="normal" font-style="normal" fill="#000">0</text>
<text x="11.8" y="1371.7" font-size="15" text-anchor="start" font-weight="normal" font-style="normal" fill="#0622a2" textLength="129.0" lengthAdjust="spacingAndGlyphs">G-CHOP, ≤MEDIAN</text>
<text x="171.7" y="1371.7" font-size="15" text-anchor="middle" font-weight="normal" font-style="normal" fill="#000">41</text>
<text x="225.47" y="1371.7" font-size="15" text-anchor="middle" font-weight="normal" font-style="normal" fill="#000">30</text>
<text x="279.24" y="1371.7" font-size="15" text-anchor="middle" font-weight="normal" font-style="normal" fill="#000">28</text>
<text x="333.01" y="1371.7" font-size="15" text-anchor="middle" font-weight="normal" font-style="normal" fill="#000">25</text>
<text x="386.78" y="1371.7" font-size="15" text-anchor="middle" font-weight="normal" font-style="normal" fill="#000">19</text>
<text x="440.55" y="1371.7" font-size="15" text-anchor="middle" font-weight="normal" font-style="normal" fill="#000">4</text>
<text x="494.32" y="1371.7" font-size="15" text-anchor="middle" font-weight="normal" font-style="normal" fill="#000">0</text>
<text x="11.8" y="1389.7" font-size="15" text-anchor="start" font-weight="normal" font-style="normal" fill="#3fd3f9" textLength="131.2" lengthAdjust="spacingAndGlyphs">G-CHOP, &gt;MEDIAN</text>
<text x="171.7" y="1389.7" font-size="15" text-anchor="middle" font-weight="normal" font-style="normal" fill="#000">39</text>
<text x="225.47" y="1389.7" font-size="15" text-anchor="middle" font-weight="normal" font-style="normal" fill="#000">31</text>
<text x="279.24" y="1389.7" font-size="15" text-anchor="middle" font-weight="normal" font-style="normal" fill="#000">28</text>
<text x="333.01" y="1389.7" font-size="15" text-anchor="middle" font-weight="normal" font-style="normal" fill="#000">23</text>
<text x="386.78" y="1389.7" font-size="15" text-anchor="middle" font-weight="normal" font-style="normal" fill="#000">16</text>
<text x="440.55" y="1389.7" font-size="15" text-anchor="middle" font-weight="normal" font-style="normal" fill="#000">5</text>
<text x="494.32" y="1389.7" font-size="15" text-anchor="middle" font-weight="normal" font-style="normal" fill="#000">0</text>
<rect x="1.25" y="1.25" width="517.5" height="1401.5" fill="none" stroke="#000" stroke-width="2.5"/>
</svg>
</body></html>
